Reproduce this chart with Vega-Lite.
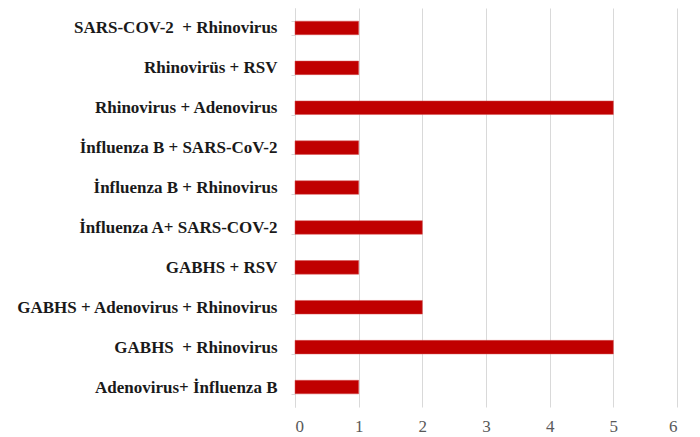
{
  "$schema": "https://vega.github.io/schema/vega-lite/v6.json",
  "width": 382,
  "height": 399,
  "autosize": {"type": "none"},
  "padding": {"left": 295, "top": 8, "right": 23, "bottom": 30},
  "background": "white",
  "data": {
    "values": [
      {"pair": "SARS-COV-2\u00a0 + Rhinovirus", "count": 1},
      {"pair": "Rhinovirüs + RSV", "count": 1},
      {"pair": "Rhinovirus + Adenovirus", "count": 5},
      {"pair": "İnfluenza B + SARS-CoV-2", "count": 1},
      {"pair": "İnfluenza B + Rhinovirus", "count": 1},
      {"pair": "İnfluenza A+ SARS-COV-2", "count": 2},
      {"pair": "GABHS + RSV", "count": 1},
      {"pair": "GABHS + Adenovirus + Rhinovirus", "count": 2},
      {"pair": "GABHS\u00a0 + Rhinovirus", "count": 5},
      {"pair": "Adenovirus+ İnfluenza B", "count": 1}
    ]
  },
  "config": {"view": {"stroke": null}},
  "mark": {"type": "bar", "color": "#C00000", "stroke": "#d65050", "strokeWidth": 0.5},
  "encoding": {
    "y": {
      "field": "pair",
      "type": "nominal",
      "sort": null,
      "scale": {"paddingInner": 0.66, "paddingOuter": 0.33},
      "axis": {
        "title": null,
        "labelFont": "Liberation Serif",
        "labelFontWeight": "bold",
        "labelFontSize": 17,
        "labelColor": "#1a1a1a",
        "labelPadding": 14,
        "labelLimit": 300,
        "domainColor": "#d9d9d9",
        "tickColor": "#d9d9d9",
        "tickSize": 4,
        "tickBand": "extent",
        "grid": false
      }
    },
    "x": {
      "field": "count",
      "type": "quantitative",
      "scale": {"domain": [0, 6], "nice": false},
      "axis": {
        "title": null,
        "values": [0, 1, 2, 3, 4, 5, 6],
        "labelFont": "Liberation Serif",
        "labelFontSize": 17,
        "labelColor": "#595959",
        "labelPadding": 11,
        "domain": false,
        "ticks": false,
        "grid": true,
        "gridColor": "#d9d9d9",
        "gridWidth": 1
      }
    }
  }
}
